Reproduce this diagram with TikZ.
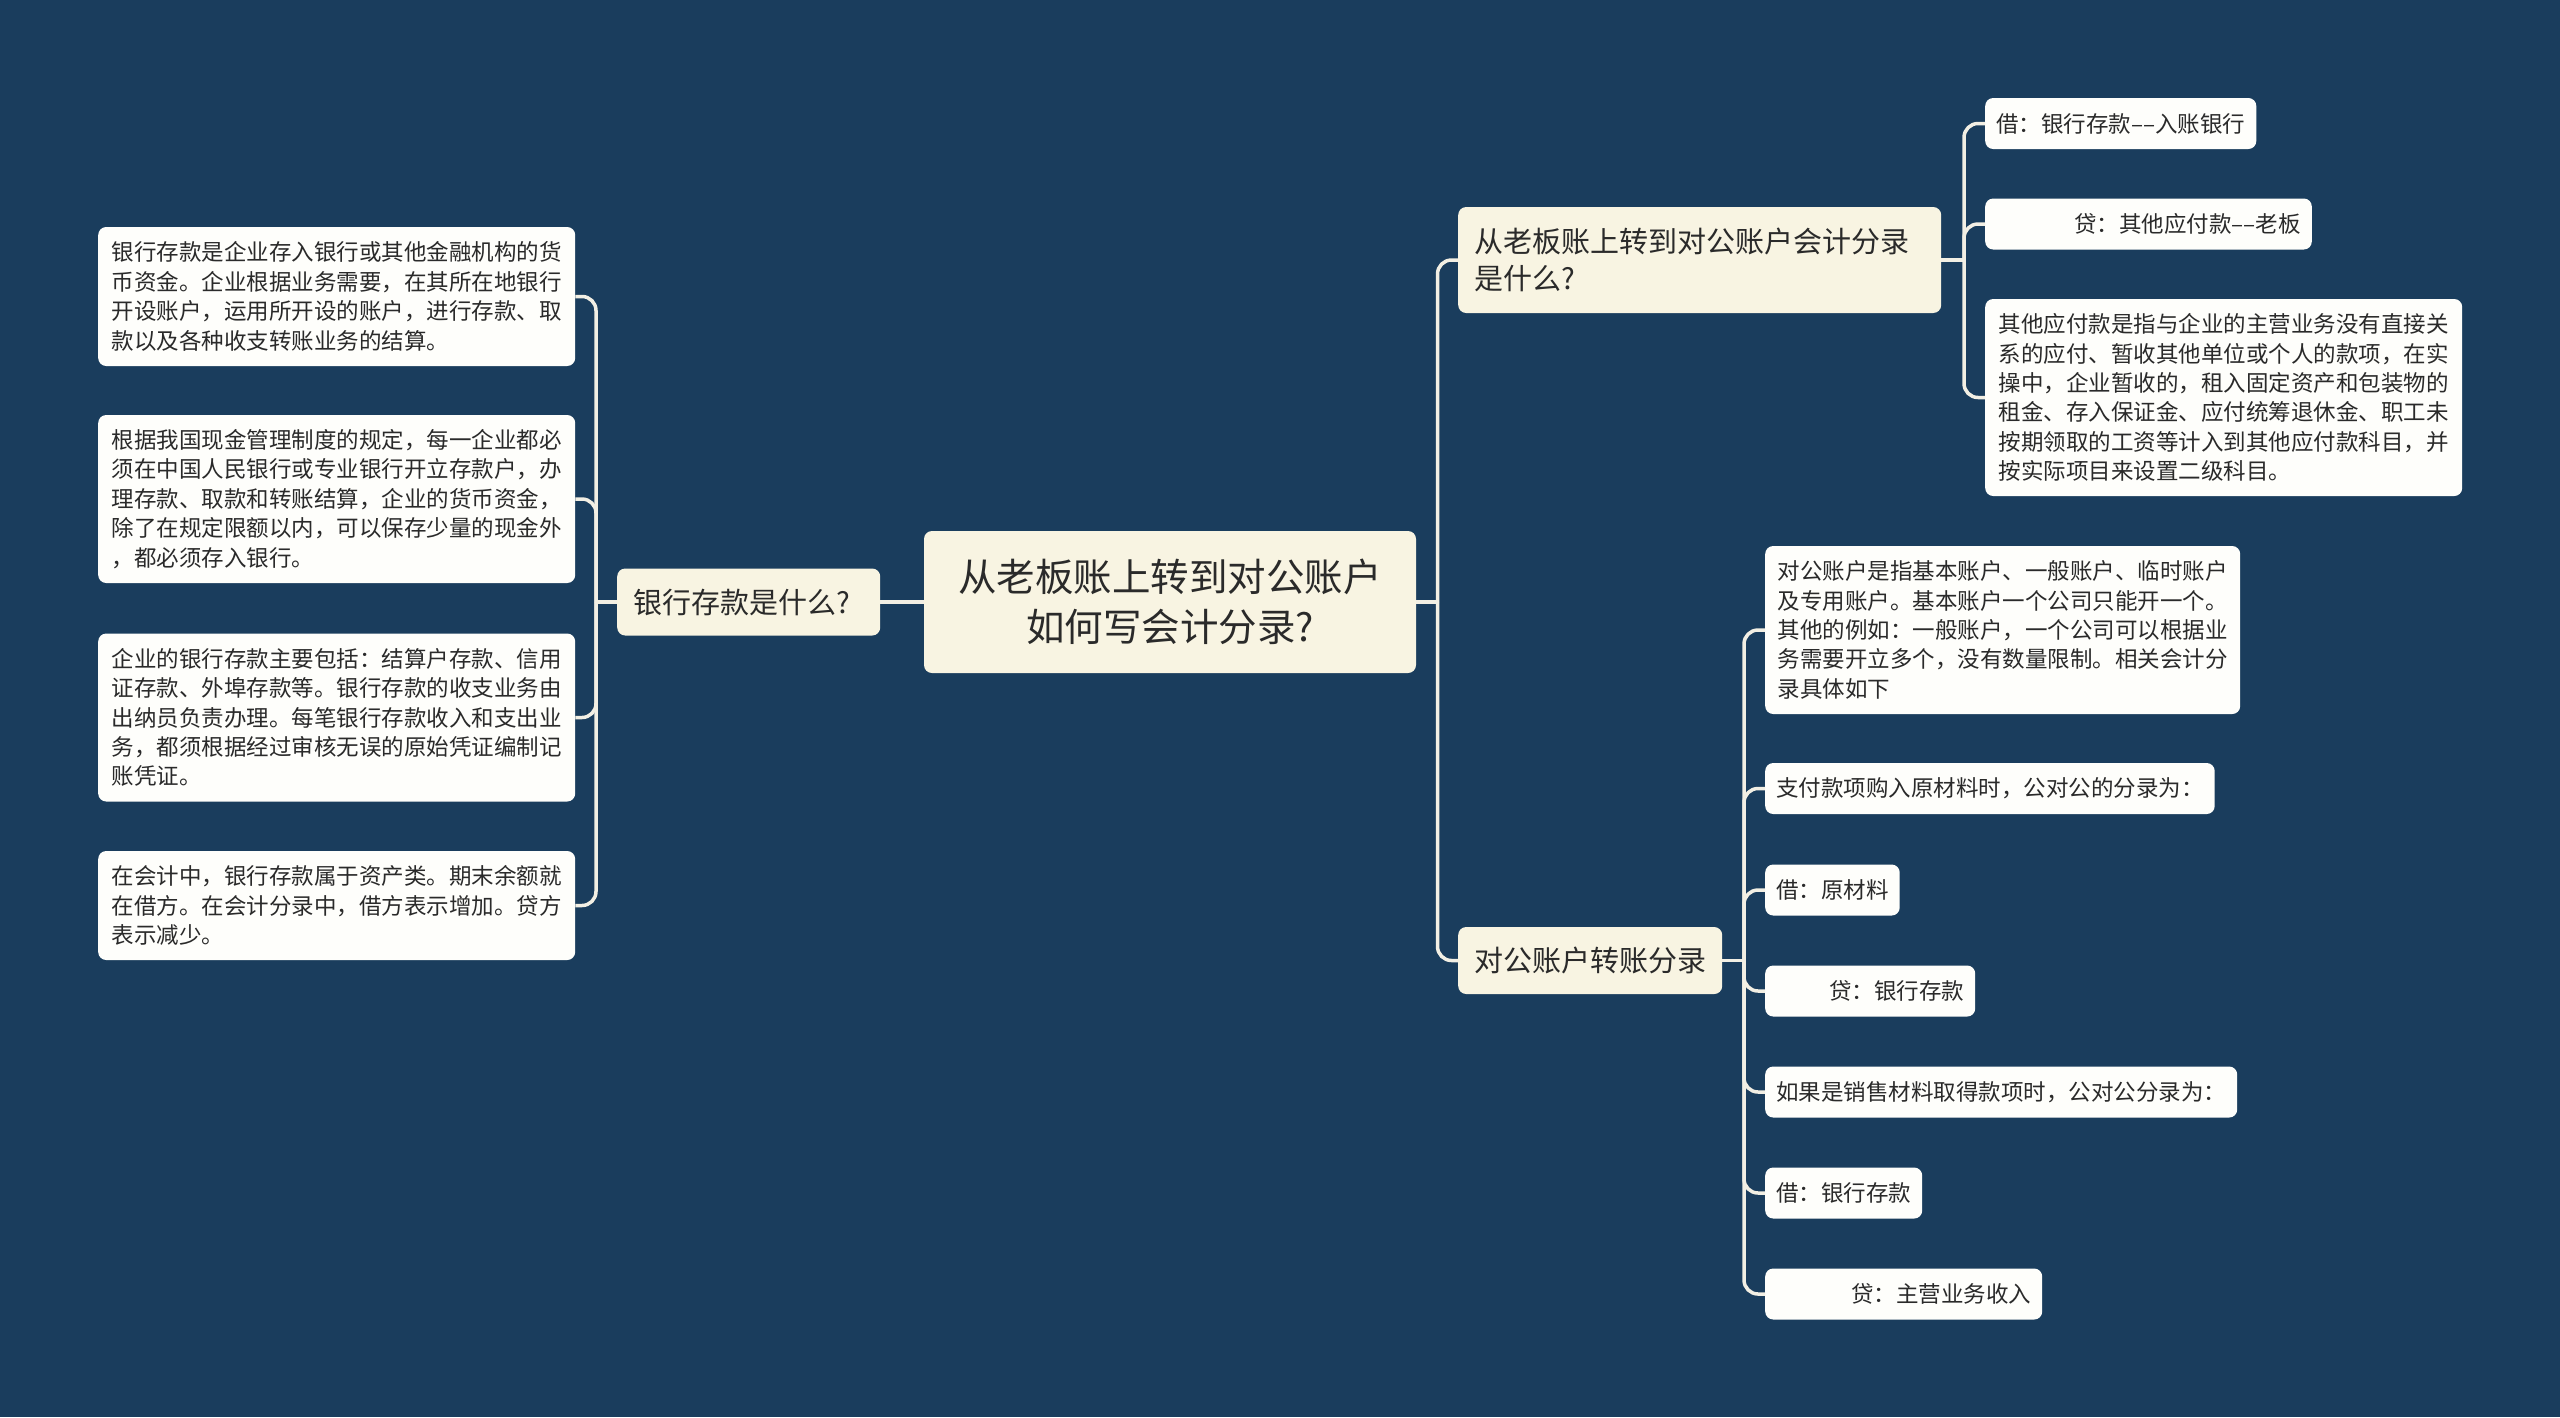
\documentclass[tikz,border=0pt]{standalone}
\usepackage{fontspec}
\newfontfamily\cjk{Noto Sans CJK SC}
\definecolor{bg}{HTML}{1A3D5D}
\definecolor{cream}{HTML}{F8F4E2}
\definecolor{leaffill}{HTML}{FEFEFB}
\definecolor{txt}{HTML}{2A2A2A}
\definecolor{linec}{HTML}{F2EFE4}
\tikzset{
  box/.style={rounded corners=8pt, inner xsep=11pt, inner ysep=0pt, text=txt},
  leaf/.style={box, fill=leaffill, align=left, anchor=west, minimum height=51pt,
    font=\cjk\fontsize{22.5}{29.4}\selectfont},
  branch/.style={box, fill=cream, inner xsep=16pt, align=left,
    font=\cjk\fontsize{29}{37.5}\selectfont},
  rootbox/.style={box, fill=cream, align=center,
    font=\cjk\fontsize{38.5}{50.6}\selectfont},
  conn/.style={draw=linec, line width=3.5pt, rounded corners=14pt},
}
\begin{document}
\begin{tikzpicture}[x=1pt,y=-1pt]
\fill[bg] (0,0) rectangle (2560,1417);
\useasboundingbox (0,0) rectangle (2560,1417);

% root
\node[rootbox, minimum width=492pt, minimum height=142pt] (root) at (1170,602)
  {从老板账上转到对公账户\\如何写会计分录?};

% left branch
\node[branch, anchor=west, text width=231pt, minimum height=67pt] (lb) at (617,602) {银行存款是什么?};

\node[leaf, minimum width=477pt, minimum height=139pt] (l1) at (98,296.5)
  {银行存款是企业存入银行或其他金融机构的货\\币资金。企业根据业务需要，在其所在地银行\\开设账户，运用所开设的账户，进行存款、取\\款以及各种收支转账业务的结算。};
\node[leaf, minimum width=477pt, minimum height=168pt] (l2) at (98,499)
  {根据我国现金管理制度的规定，每一企业都必\\须在中国人民银行或专业银行开立存款户，办\\理存款、取款和转账结算，企业的货币资金，\\除了在规定限额以内，可以保存少量的现金外\\，都必须存入银行。};
\node[leaf, minimum width=477pt, minimum height=168pt] (l3) at (98,717.5)
  {企业的银行存款主要包括：结算户存款、信用\\证存款、外埠存款等。银行存款的收支业务由\\出纳员负责办理。每笔银行存款收入和支出业\\务，都须根据经过审核无误的原始凭证编制记\\账凭证。};
\node[leaf, minimum width=477pt, minimum height=109pt] (l4) at (98,905.5)
  {在会计中，银行存款属于资产类。期末余额就\\在借方。在会计分录中，借方表示增加。贷方\\表示减少。};

% right branches
\node[branch, anchor=west, text width=451pt, minimum height=106pt] (r1) at (1458,260)
  {从老板账上转到对公账户会计分录\\是什么?};
\node[branch, anchor=west, minimum height=67pt] (r2) at (1458,960.5) {对公账户转账分录};

% r1 children
\node[leaf] (c1) at (1985,123.5) {借：银行存款––入账银行};
\node[leaf] (c2) at (1985,224) {\hspace*{78pt}贷：其他应付款––老板};
\node[leaf, minimum width=477pt, minimum height=197pt] (c3) at (1985,397.5)
  {其他应付款是指与企业的主营业务没有直接关\\系的应付、暂收其他单位或个人的款项，在实\\操中，企业暂收的，租入固定资产和包装物的\\租金、存入保证金、应付统筹退休金、职工未\\按期领取的工资等计入到其他应付款科目，并\\按实际项目来设置二级科目。};

% r2 children
\node[leaf, minimum width=475pt, minimum height=168pt] (d1) at (1765,630)
  {对公账户是指基本账户、一般账户、临时账户\\及专用账户。基本账户一个公司只能开一个。\\其他的例如：一般账户，一个公司可以根据业\\务需要开立多个，没有数量限制。相关会计分\\录具体如下};
\node[leaf] (d2) at (1765,788.5) {支付款项购入原材料时，公对公的分录为：};
\node[leaf] (d3) at (1765,890) {借：原材料};
\node[leaf] (d4) at (1765,991) {\hspace*{53pt}贷：银行存款};
\node[leaf] (d5) at (1765,1092) {如果是销售材料取得款项时，公对公分录为：};
\node[leaf] (d6) at (1765,1193) {借：银行存款};
\node[leaf] (d7) at (1765,1294) {\hspace*{75pt}贷：主营业务收入};

% trunks
\coordinate (ltr) at (596,602);
\coordinate (rtr) at (1437.5,602);
\coordinate (r1tr) at (1964,260);
\coordinate (r2tr) at (1744,960.5);

% connectors
\draw[conn] (root.west) -- (lb.east);
\draw[conn] (lb.west) -- (ltr);
\foreach \n in {l1,l2,l3,l4} \draw[conn] (ltr) |- (\n.east);
\draw[conn] (root.east) -- (rtr);
\foreach \n in {r1,r2} \draw[conn] (rtr) |- (\n.west);
\draw[conn] (r1.east) -- (r1tr);
\foreach \n in {c1,c2,c3} \draw[conn] (r1tr) |- (\n.west);
\draw[conn] (r2.east) -- (r2tr);
\foreach \n in {d1,d2,d3,d4,d5,d6,d7} \draw[conn] (r2tr) |- (\n.west);
\end{tikzpicture}
\end{document}
